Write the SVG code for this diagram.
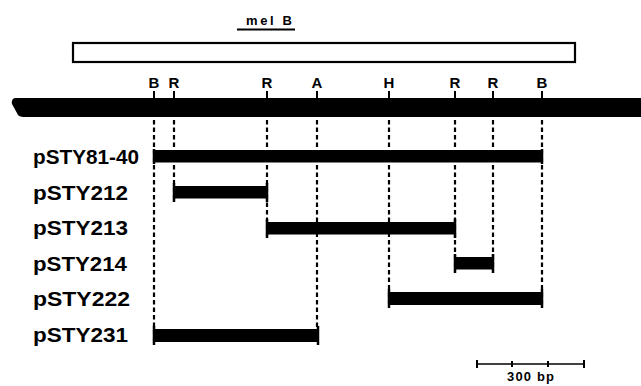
<svg xmlns="http://www.w3.org/2000/svg" width="641" height="386" viewBox="0 0 641 386">
  <style>
    .lbl { font-family: "Liberation Sans", Arial, sans-serif; font-weight: bold; fill: #000; }
    .site { font-size: 15px; text-anchor: middle; }
    .clone { font-size: 21px; }
    .tick { stroke: #000; stroke-width: 2; }
    .dash { stroke: #000; stroke-width: 2.2; stroke-dasharray: 4.5 3; fill: none; }
    .bar { fill: #000; }
    .cap { stroke: #000; stroke-width: 2.5; }
  </style>
  <rect width="641" height="386" fill="#fff"/>

  <!-- gene label and extent -->
  <g id="melB">
    <text class="lbl" x="246" y="25" font-size="13" textLength="46" lengthAdjust="spacing">mel B</text>
    <line x1="237" y1="29.5" x2="295" y2="29.5" stroke="#000" stroke-width="2"/>
    <rect x="73" y="43" width="502" height="19" fill="#fff" stroke="#000" stroke-width="2.2"/>
  </g>

  <!-- chromosome segment with restriction sites -->
  <g id="map">
    <path d="M641 98 L15 98 Q11 99 12 104 L18 115 Q20 117 25 117 L641 117 Z" fill="#000"/>
    <g class="lbl site">
      <text x="154" y="88">B</text>
      <text x="174" y="88">R</text>
      <text x="267" y="88">R</text>
      <text x="317" y="88">A</text>
      <text x="389" y="88">H</text>
      <text x="455" y="88">R</text>
      <text x="493" y="88">R</text>
      <text x="542" y="88">B</text>
    </g>
    <g class="tick">
      <line x1="154" y1="91" x2="154" y2="98"/>
      <line x1="174" y1="91" x2="174" y2="98"/>
      <line x1="267" y1="91" x2="267" y2="98"/>
      <line x1="317" y1="91" x2="317" y2="98"/>
      <line x1="389" y1="91" x2="389" y2="98"/>
      <line x1="455" y1="91" x2="455" y2="98"/>
      <line x1="493" y1="91" x2="493" y2="98"/>
      <line x1="542" y1="91" x2="542" y2="98"/>
    </g>
  </g>

  <!-- projections of the sites down to the clones -->
  <g id="connectors">
    <line class="dash" x1="154" y1="120" x2="154" y2="343"/>
    <line class="dash" x1="174" y1="120" x2="174" y2="200"/>
    <line class="dash" x1="267" y1="120" x2="267" y2="236"/>
    <line class="dash" x1="317" y1="120" x2="317" y2="343"/>
    <line class="dash" x1="389" y1="120" x2="389" y2="306"/>
    <line class="dash" x1="455" y1="120" x2="455" y2="271"/>
    <line class="dash" x1="493" y1="120" x2="493" y2="271"/>
    <line class="dash" x1="542" y1="120" x2="542" y2="306"/>
  </g>

  <!-- subclones -->
  <g id="pSTY81-40">
    <text class="lbl clone" x="33" y="164" textLength="106" lengthAdjust="spacingAndGlyphs">pSTY81-40</text>
    <rect class="bar" x="154" y="150" width="388" height="12.5"/>
    <line class="cap" x1="154" y1="149" x2="154" y2="164"/>
    <line class="cap" x1="542" y1="149" x2="542" y2="164"/>
  </g>
  <g id="pSTY212">
    <text class="lbl clone" x="33" y="200" textLength="95" lengthAdjust="spacingAndGlyphs">pSTY212</text>
    <rect class="bar" x="174" y="186" width="93" height="12.5"/>
    <line class="cap" x1="174" y1="183" x2="174" y2="202"/>
    <line class="cap" x1="267" y1="183" x2="267" y2="202"/>
  </g>
  <g id="pSTY213">
    <text class="lbl clone" x="33" y="235" textLength="95" lengthAdjust="spacingAndGlyphs">pSTY213</text>
    <rect class="bar" x="267" y="222" width="188" height="12.5"/>
    <line class="cap" x1="267" y1="219" x2="267" y2="238"/>
    <line class="cap" x1="455" y1="219" x2="455" y2="238"/>
  </g>
  <g id="pSTY214">
    <text class="lbl clone" x="33" y="271" textLength="94" lengthAdjust="spacingAndGlyphs">pSTY214</text>
    <rect class="bar" x="455" y="257" width="38" height="12.5"/>
    <line class="cap" x1="455" y1="254" x2="455" y2="273"/>
    <line class="cap" x1="493" y1="254" x2="493" y2="273"/>
  </g>
  <g id="pSTY222">
    <text class="lbl clone" x="33" y="306" textLength="97" lengthAdjust="spacingAndGlyphs">pSTY222</text>
    <rect class="bar" x="389" y="292" width="153" height="13"/>
    <line class="cap" x1="389" y1="289" x2="389" y2="308"/>
    <line class="cap" x1="542" y1="289" x2="542" y2="308"/>
  </g>
  <g id="pSTY231">
    <text class="lbl clone" x="33" y="342" textLength="95" lengthAdjust="spacingAndGlyphs">pSTY231</text>
    <rect class="bar" x="154" y="329" width="164" height="13"/>
    <line class="cap" x1="154" y1="326" x2="154" y2="345"/>
    <line class="cap" x1="318" y1="326" x2="318" y2="345"/>
  </g>

  <!-- scale bar -->
  <g id="scale">
    <line x1="477" y1="364" x2="584" y2="364" stroke="#000" stroke-width="1.5"/>
    <g class="tick">
      <line x1="477" y1="360" x2="477" y2="368"/>
      <line x1="512" y1="361" x2="512" y2="367"/>
      <line x1="548" y1="361" x2="548" y2="367"/>
      <line x1="584" y1="360" x2="584" y2="368"/>
    </g>
    <text class="lbl" x="507" y="381" font-size="13" textLength="47" lengthAdjust="spacing">300 bp</text>
  </g>
</svg>
